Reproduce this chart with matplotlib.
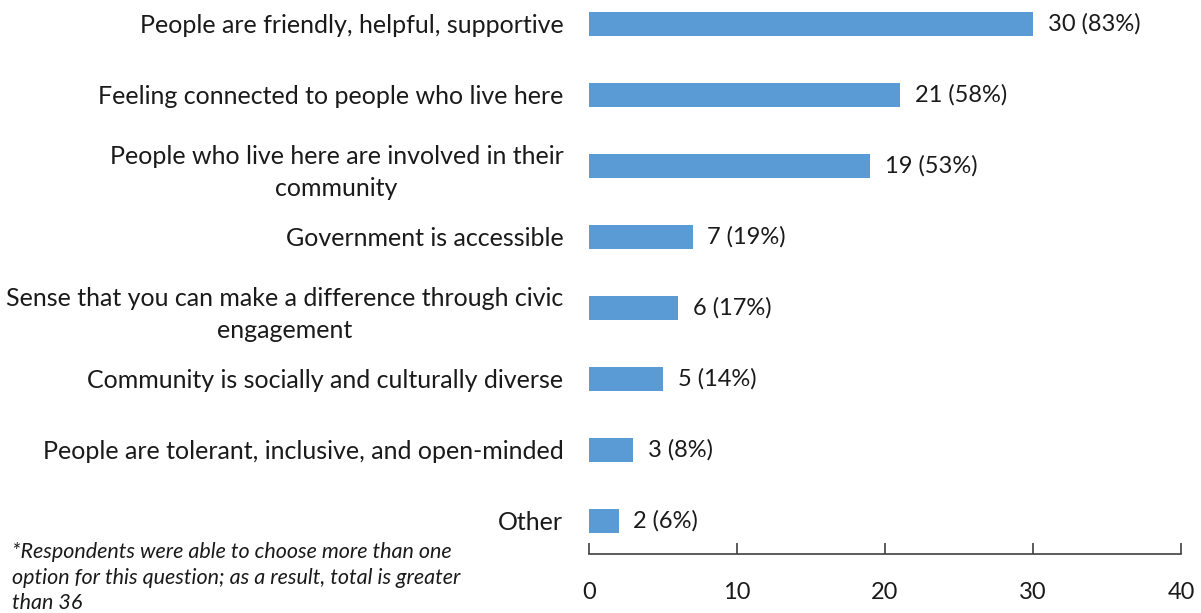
import matplotlib.pyplot as plt

# survey responses, listed top to bottom
categories = [
    "People are friendly, helpful, supportive",
    "Feeling connected to people who live here",
    "People who live here are involved in their\ncommunity",
    "Government is accessible",
    "Sense that you can make a difference through civic\nengagement",
    "Community is socially and culturally diverse",
    "People are tolerant, inclusive, and open-minded",
    "Other",
]
counts = [30, 21, 19, 7, 6, 5, 3, 2]
percents = [83, 58, 53, 19, 17, 14, 8, 6]
xticks = [0, 10, 20, 30, 40]

note = ("*Respondents were able to choose more than one\n"
        "option for this question; as a result, total is greater\n"
        "than 36")

plt.rcParams['font.family'] = ['Lato', 'DejaVu Sans']
text_color = '#1a1a1a'

fig = plt.figure(figsize=(12.01, 6.13), dpi=100)
ax = fig.add_axes([589 / 1201, 59 / 613, 592 / 1201, 565.5 / 613])

ypos = list(range(len(categories)))
ax.barh(ypos, counts, height=0.34, color='#5b9bd5')

for y, c, p in zip(ypos, counts, percents):
    ax.text(c + 1.0, y, f"{c} ({p}%)", va='center', ha='left',
            fontsize=17, color=text_color)

ax.set_xlim(0, 40)
ax.set_ylim(7.465, -0.5)
ax.set_xticks(xticks)
ax.set_xticklabels([str(t) for t in xticks], fontsize=17, color=text_color)
ax.set_yticks(ypos)
ax.set_yticklabels(categories, fontsize=18, color=text_color)
for lab in ax.get_yticklabels():
    lab.set_multialignment('center')
    lab.set_linespacing(1.45)

ax.tick_params(axis='y', length=0, pad=18.5)
ax.tick_params(axis='x', direction='in', length=8, width=1.2,
               color='#404040', pad=20)

for side in ['top', 'right', 'left']:
    ax.spines[side].set_visible(False)
ax.spines['bottom'].set_color('#404040')
ax.spines['bottom'].set_linewidth(1.2)

fig.text(12 / 1201, 1 - 542 / 613, note, ha='left', va='top',
         fontsize=15.5, style='italic', color=text_color, linespacing=1.35)

fig.savefig('out.png', dpi=100)
